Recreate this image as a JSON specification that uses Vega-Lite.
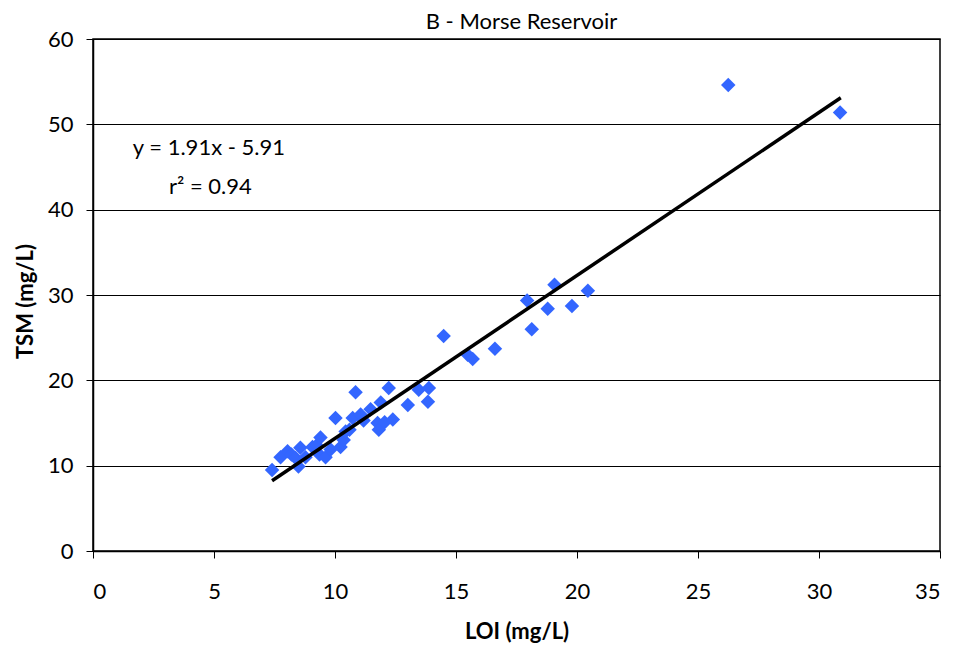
{
  "$schema": "https://vega.github.io/schema/vega-lite/v6.json",
  "width": 847,
  "height": 512,
  "autosize": {"type": "none"},
  "padding": {"left": 93, "top": 39, "right": 23, "bottom": 96},
  "background": "white",
  "title": {
    "text": "B - Morse Reservoir",
    "font": "Lato",
    "fontSize": 22,
    "fontWeight": "normal",
    "color": "black",
    "anchor": "middle",
    "offset": -6,
    "dx": 5
  },
  "config": {
    "view": {"stroke": "black", "strokeWidth": 1.5},
    "axis": {
      "labelFont": "Lato",
      "labelFontSize": 22,
      "labelColor": "black",
      "titleFont": "Lato",
      "titleFontSize": 22,
      "titleFontWeight": "bold",
      "titleColor": "black",
      "domainColor": "black",
      "domainWidth": 1.5,
      "tickColor": "black",
      "tickSize": 7,
      "tickWidth": 1
    }
  },
  "datasets": {
    "samples": [
      {"loi": 7.4, "tsm": 9.5},
      {"loi": 7.75, "tsm": 11.0},
      {"loi": 8.04, "tsm": 11.7},
      {"loi": 8.2, "tsm": 11.3},
      {"loi": 8.37, "tsm": 10.9},
      {"loi": 8.49, "tsm": 9.9},
      {"loi": 8.57, "tsm": 12.1},
      {"loi": 8.78, "tsm": 11.0},
      {"loi": 9.07, "tsm": 12.2},
      {"loi": 9.24, "tsm": 12.4},
      {"loi": 9.36, "tsm": 11.3},
      {"loi": 9.4, "tsm": 13.3},
      {"loi": 9.61, "tsm": 11.0},
      {"loi": 9.82, "tsm": 11.9},
      {"loi": 10.02, "tsm": 15.6},
      {"loi": 10.23, "tsm": 12.2},
      {"loi": 10.36, "tsm": 13.0},
      {"loi": 10.44, "tsm": 14.0},
      {"loi": 10.6, "tsm": 14.2},
      {"loi": 10.73, "tsm": 15.6},
      {"loi": 10.85, "tsm": 18.6},
      {"loi": 11.06, "tsm": 16.0},
      {"loi": 11.18, "tsm": 15.3},
      {"loi": 11.47, "tsm": 16.6},
      {"loi": 11.76, "tsm": 15.0},
      {"loi": 11.81, "tsm": 14.2},
      {"loi": 11.89, "tsm": 17.4},
      {"loi": 12.05, "tsm": 15.1},
      {"loi": 12.22, "tsm": 19.1},
      {"loi": 12.39, "tsm": 15.4},
      {"loi": 13.01, "tsm": 17.1},
      {"loi": 13.46, "tsm": 18.9},
      {"loi": 13.84, "tsm": 17.5},
      {"loi": 13.88, "tsm": 19.1},
      {"loi": 14.49, "tsm": 25.2},
      {"loi": 15.48, "tsm": 23.0},
      {"loi": 15.69, "tsm": 22.5},
      {"loi": 16.61, "tsm": 23.7},
      {"loi": 17.94, "tsm": 29.35},
      {"loi": 18.13, "tsm": 26.0},
      {"loi": 18.79, "tsm": 28.4},
      {"loi": 19.07, "tsm": 31.2},
      {"loi": 19.79, "tsm": 28.7},
      {"loi": 20.45, "tsm": 30.5},
      {"loi": 26.25, "tsm": 54.6},
      {"loi": 30.87, "tsm": 51.4}
    ],
    "fit": [
      {"loi": 7.4, "tsm": 8.224},
      {"loi": 30.9, "tsm": 53.109}
    ],
    "notes": [
      {"loi": 4.79, "tsm": 47.2, "label": "y = 1.91x - 5.91"},
      {"loi": 4.85, "tsm": 42.6, "label": "r² = 0.94"}
    ]
  },
  "layer": [
    {
      "data": {"name": "samples"},
      "mark": {"type": "point", "shape": "diamond", "filled": true, "size": 210, "color": "#3366FF", "opacity": 1},
      "encoding": {
        "x": {
          "field": "loi", "type": "quantitative",
          "scale": {"domain": [0, 35], "nice": false, "zero": false},
          "axis": {
            "title": "LOI (mg/L)",
            "values": [0, 5, 10, 15, 20, 25, 30, 35],
            "grid": false,
            "labelPadding": 23,
            "titleY": 80,
            "titleBaseline": "middle"
          }
        },
        "y": {
          "field": "tsm", "type": "quantitative",
          "scale": {"domain": [0, 60], "nice": false},
          "axis": {
            "title": "TSM (mg/L)",
            "values": [0, 10, 20, 30, 40, 50, 60],
            "grid": true,
            "gridColor": "black",
            "gridWidth": 1,
            "gridOpacity": 1,
            "labelPadding": 13,
            "titleX": -68,
            "titleY": 262,
            "titleAngle": -90,
            "titleAlign": "center",
            "titleBaseline": "middle"
          }
        }
      }
    },
    {
      "data": {"name": "fit"},
      "mark": {"type": "line", "color": "black", "strokeWidth": 3.5},
      "encoding": {
        "x": {"field": "loi", "type": "quantitative"},
        "y": {"field": "tsm", "type": "quantitative"}
      }
    },
    {
      "data": {"name": "notes"},
      "mark": {"type": "text", "font": "Lato", "fontSize": 22, "color": "black", "align": "center", "baseline": "middle"},
      "encoding": {
        "x": {"field": "loi", "type": "quantitative"},
        "y": {"field": "tsm", "type": "quantitative"},
        "text": {"field": "label"}
      }
    }
  ]
}
